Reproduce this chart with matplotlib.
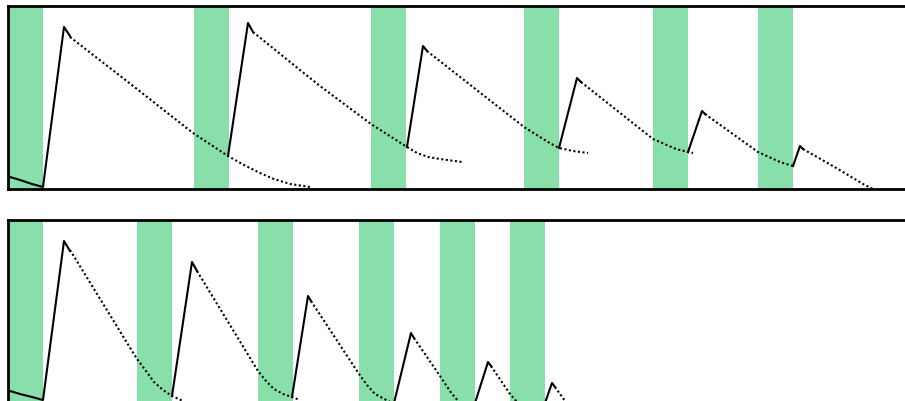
import matplotlib.pyplot as plt
import numpy as np

GREEN = "#88dfaa"

# dosing windows (start, end) for each panel
top_bands = [(0, 35), (186, 221), (363, 398), (516, 551), (645, 680), (750, 785)]
bottom_bands = [(0, 35), (129, 164), (250, 285), (351, 386), (432, 467), (502, 537)]

# solid segments: uptake after each window
top_rise = [
    [(2, 12), (12, 9), (24, 5), (35, 2), (56, 162), (62, 153)],
    [(220, 33), (240, 166), (245, 157)],
    [(399, 42), (415, 143), (419, 138)],
    [(551, 41), (569, 111), (573, 107)],
    [(680, 37), (694, 78), (697, 75)],
    [(785, 23), (792, 43), (795, 40)],
]
# dotted segments: projected decay from each peak
top_decay = [
    [(62, 152), (120, 107), (185, 56), (220, 33), (236, 24),
     (252, 16), (266, 10), (282, 5), (302, 2)],
    [(245, 157), (292, 119), (312, 103), (363, 65), (399, 42), (409, 36),
     (420, 32), (432, 30), (454, 27)],
    [(419, 138), (470, 98), (516, 62), (540, 47), (551, 41), (565, 38), (580, 36)],
    [(573, 107), (592, 92), (645, 50), (668, 40), (680, 37), (685, 36)],
    [(697, 75), (750, 37), (772, 27), (785, 23)],
    [(795, 40), (830, 20), (855, 5), (865, 0)],
]

bottom_rise = [
    [(2, 12), (12, 9), (24, 6), (35, 3), (56, 162), (62, 152)],
    [(164, 7), (184, 141), (189, 132)],
    [(284, 6), (300, 107), (303, 102)],
    [(386, 0), (403, 70), (406, 65)],
    [(467, 0), (480, 41), (483, 37)],
    [(537, 0), (544, 20), (547, 16)],
]
bottom_decay = [
    [(62, 153), (129, 44), (138, 32), (146, 21), (155, 13), (164, 7), (175, 2)],
    [(189, 132), (250, 32), (258, 22), (266, 14), (275, 9), (284, 6), (292, 3)],
    [(303, 102), (351, 29), (359, 18), (367, 9), (384, 0)],
    [(406, 65), (432, 27), (444, 9), (452, 0)],
    [(483, 37), (502, 9), (510, 0)],
    [(547, 16), (557, 2)],
]

W, H = 905, 402
fig = plt.figure(figsize=(W / 100, H / 100), dpi=100)

# axes run past the right and bottom edges of the canvas
ax_top = fig.add_axes([8 / W, (H - 190) / H, 900 / W, 183 / H])
ax_bot = fig.add_axes([8 / W, (H - 404) / H, 900 / W, 183 / H])


def draw_panel(ax, bands, rises, decays):
    for a, b in bands:
        ax.axvspan(a, b, color=GREEN, lw=0, zorder=1)
    for seg in decays:
        pts = np.array(seg)
        ax.plot(pts[:, 0], pts[:, 1], color="black", lw=1.5,
                linestyle=(0, (1, 1.2)), zorder=2)
    for seg in rises:
        pts = np.array(seg)
        ax.plot(pts[:, 0], pts[:, 1], color="black", lw=1.5, zorder=3)
    ax.set_xlim(0, 900)
    ax.set_ylim(0, 183)
    ax.set_xticks([])
    ax.set_yticks([])
    for sp in ax.spines.values():
        sp.set_linewidth(2)
        sp.set_zorder(4)


draw_panel(ax_top, top_bands, top_rise, top_decay)
draw_panel(ax_bot, bottom_bands, bottom_rise, bottom_decay)

fig.savefig("out.png", dpi=100)
